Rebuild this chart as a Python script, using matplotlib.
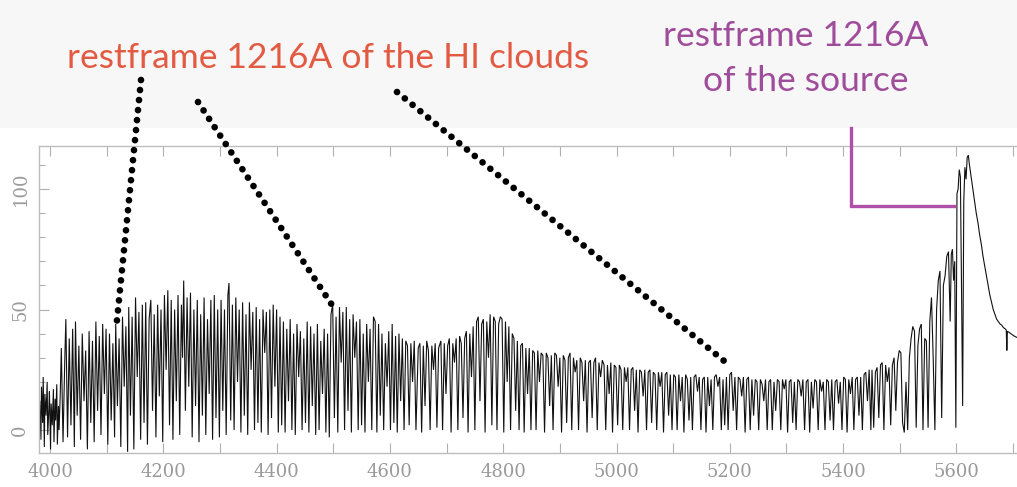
import matplotlib
matplotlib.use("Agg")
import matplotlib.pyplot as plt
from matplotlib.lines import Line2D
from matplotlib.patches import Rectangle
from matplotlib.ticker import MultipleLocator

# ---- QSO spectrum: flux vs observed wavelength (Angstrom) ----
# noisy blue end
noise_wave = [3982, 3984, 3985, 3987, 3988, 3990, 3991, 3993, 3995, 3996,
              3998, 3999, 4001, 4002, 4004, 4006, 4007, 4009, 4010, 4012,
              4013, 4015, 4016, 4018]
noise_flux = [12, -4, 18, 3, 22, -7, 15, 6, 20, -2,
              9, 16, -8, 11, 2, 17, -5, 13, 4, 19,
              -6, 10, 0, 14]

# dense Lyman-alpha forest
blue_wave = [4020, 4023, 4026, 4028, 4031, 4034, 4037, 4040, 4043, 4045,
             4048, 4051, 4054, 4057, 4060, 4063, 4066, 4069, 4072, 4075,
             4078, 4081, 4084, 4087, 4090, 4093, 4096, 4099, 4102, 4105,
             4108, 4111, 4114, 4116, 4119, 4122, 4125, 4128, 4131, 4134,
             4137, 4139, 4142, 4145, 4148, 4151, 4154, 4157, 4160, 4163,
             4166, 4169, 4172, 4175, 4178, 4181, 4184, 4187, 4190, 4193,
             4196, 4199, 4202, 4205, 4208, 4211, 4214, 4217, 4220, 4223,
             4226, 4229, 4232, 4234, 4236, 4239, 4242, 4245, 4248, 4251,
             4254, 4257, 4260, 4263, 4266, 4269, 4272, 4275, 4278, 4281,
             4284, 4287, 4290, 4293, 4296, 4299]
blue_flux = [34, -5, 28, 46, -3, 38, 2, 42, -7, 45,
             6, 35, -4, 40, 12, 33, -8, 41, 3, 37,
             -5, 45, 8, 39, -2, 44, 15, 42, -6, 40,
             4, 36, -3, 44, 10, 38, -7, 47, 18, 43,
             -9, 51, 6, 47, -8, 55, 22, 49, -4, 52,
             3, 53, -6, 46, 54, 8, 48, -3, 52, 14,
             50, -5, 56, 25, 58, 2, 54, -4, 50, 12,
             56, -2, 52, 30, 62, 8, 55, 18, 57, -3,
             50, 10, 54, -5, 48, 6, 55, -2, 46, 15,
             54, -4, 56, 5, 50, -3]

mid_wave = [4302, 4305, 4308, 4311, 4314, 4316, 4319, 4322, 4325, 4328,
            4331, 4334, 4337, 4340, 4343, 4346, 4349, 4352, 4355, 4358,
            4361, 4364, 4367, 4370, 4373, 4376, 4379, 4382, 4385, 4388,
            4391, 4394, 4397, 4400, 4403, 4406, 4409, 4412, 4415, 4418,
            4421, 4424, 4427, 4430, 4433, 4436, 4439, 4442, 4445, 4448,
            4451, 4454, 4457, 4460, 4463, 4466, 4469, 4472, 4475, 4478,
            4481, 4484, 4487, 4490, 4493, 4496, 4499, 4502, 4505, 4508,
            4511, 4514, 4517, 4520, 4523, 4526, 4529, 4532, 4535, 4538,
            4541, 4544, 4547, 4550, 4553, 4556, 4559, 4562, 4565, 4568,
            4571, 4574, 4577, 4580, 4583, 4586, 4589, 4592, 4595, 4598,
            4601, 4604, 4607, 4610, 4613, 4616, 4619]
mid_flux = [54, 8, 50, -2, 56, 61, 4, 52, 0, 55,
            20, 50, -1, 53, 6, 48, -2, 53, 25, 49,
            0, 51, 3, 46, -1, 50, 32, 49, -2, 50,
            5, 52, 18, 50, -1, 47, 2, 45, -1, 42,
            12, 46, 0, 40, -2, 44, 22, 41, 0, 38,
            3, 45, -1, 43, 10, 40, -2, 44, 0, 37,
            15, 42, -1, 40, -3, 48, 52, 5, 47, -1,
            51, 28, 49, 0, 51, 8, 46, -1, 48, 30,
            45, 0, 46, 2, 40, -1, 44, 20, 42, 0,
            47, 45, -1, 44, 6, 40, 0, 36, 18, 41,
            0, 44, 3, 39, -1, 40, 12]

bump_wave = [4622, 4625, 4628, 4631, 4634, 4637, 4640, 4643, 4646, 4650,
             4653, 4656, 4659, 4662, 4665, 4668, 4671, 4674, 4677, 4680,
             4683, 4686, 4690, 4693, 4696, 4699, 4702, 4705, 4708, 4711,
             4714, 4717, 4720, 4723, 4726, 4729, 4732, 4735, 4738, 4741,
             4744, 4747, 4750, 4753, 4756, 4759, 4762, 4765, 4768, 4771,
             4774, 4777, 4780, 4783, 4786, 4789, 4792, 4795, 4798, 4801,
             4804, 4807, 4810, 4813, 4816, 4819, 4822, 4825, 4828, 4831,
             4834, 4837, 4840, 4843, 4846, 4849]
bump_flux = [38, 0, 37, 35, 2, 36, 20, 37, 0, 34,
             36, -1, 35, 10, 37, 33, 0, 35, 25, 36,
             1, 34, 37, 0, 36, 15, 35, 38, -1, 36,
             28, 38, 0, 39, 36, 5, 38, 41, -1, 40,
             22, 43, 0, 45, 47, 12, 44, 46, -1, 45,
             30, 48, 2, 47, 45, 0, 44, 47, 46, -1,
             45, 20, 43, 0, 40, 38, 8, 37, 0, 35,
             36, -1, 34, 15, 34, 0]

red_wave = [4852, 4855, 4858, 4861, 4864, 4867, 4870, 4873, 4876, 4879,
            4882, 4885, 4888, 4891, 4894, 4897, 4900, 4903, 4906, 4909,
            4912, 4915, 4918, 4921, 4924, 4927, 4930, 4933, 4936, 4939,
            4942, 4945, 4948, 4951, 4954, 4957, 4960, 4963, 4966, 4969,
            4972, 4975, 4978, 4981, 4984, 4987, 4990, 4993, 4996, 4999,
            5002, 5005, 5008, 5011, 5014, 5017, 5020, 5023, 5026, 5029,
            5032, 5035, 5038, 5041, 5044, 5047, 5050, 5053, 5056, 5059,
            5062, 5065, 5068, 5071, 5074, 5077, 5080, 5083, 5086, 5089,
            5092, 5095, 5098]
red_flux = [33, 32, 0, 33, 20, 32, 31, -1, 32, 30,
            10, 31, 0, 32, 31, 18, 30, -1, 31, 29,
            3, 30, 32, 0, 30, 24, 29, 0, 30, 28,
            12, 29, -1, 28, 29, 5, 28, 30, 0, 28,
            22, 29, 27, 0, 27, 15, 28, -1, 27, 26,
            2, 27, 25, 0, 26, 20, 26, 0, 25, 26,
            8, 25, -1, 25, 24, 14, 25, 0, 24, 25,
            3, 24, 23, 0, 24, 18, 24, -1, 23, 24,
            6, 23, 0]

flat_wave = [5101, 5104, 5107, 5110, 5113, 5116, 5119, 5122, 5125, 5128,
             5131, 5134, 5137, 5140, 5143, 5146, 5149, 5152, 5155, 5158,
             5161, 5164, 5167, 5170, 5173, 5176, 5179, 5182, 5185, 5188,
             5191, 5194, 5197, 5200, 5203, 5206, 5209, 5212, 5215, 5218,
             5221, 5224, 5227, 5230, 5233, 5236, 5239, 5242, 5245, 5248,
             5251, 5254, 5257, 5260, 5263, 5266, 5269, 5272, 5275, 5278,
             5281, 5284, 5287, 5290, 5293, 5296, 5299, 5302, 5305, 5308,
             5311, 5314, 5317, 5320, 5323, 5326, 5329, 5332, 5335, 5338,
             5341, 5344, 5347, 5350, 5353, 5356, 5359, 5362, 5365, 5368,
             5371, 5374, 5377, 5380, 5383, 5386, 5389, 5392, 5395, 5398,
             5401, 5404, 5407, 5410, 5413, 5416, 5419, 5422, 5425, 5428,
             5431, 5434, 5437, 5440, 5443, 5446, 5449]
flat_flux = [23, 22, 0, 23, 12, 22, -1, 23, 21, 4,
             22, 0, 22, 23, 16, 22, 0, 21, 22, -1,
             22, 10, 21, 0, 22, 23, 18, 22, 0, 21,
             2, 22, 0, 23, 24, 8, 22, 0, 22, 21,
             14, 22, -1, 21, 22, 0, 21, 6, 21, 20,
             0, 21, 19, 12, 21, 0, 20, 21, 0, 20,
             8, 21, 20, 0, 21, 17, 21, -1, 20, 21,
             3, 20, 0, 21, 20, 14, 21, 0, 20, 21,
             -1, 20, 9, 21, 20, 0, 21, 16, 20, 0,
             21, 20, 4, 21, 0, 20, 21, 11, 20, 0,
             22, 21, -1, 21, 15, 22, 0, 21, 22, 6,
             22, 0, 23, 24, 12, 25, 0]

# rising blue wing of the Lyman-alpha emission line
rise_wave = [5451, 5454, 5457, 5460, 5463, 5466, 5469, 5472, 5475, 5478,
             5481, 5484, 5487, 5490, 5493, 5496, 5499, 5502, 5505, 5508,
             5511, 5514, 5517, 5520, 5523, 5526, 5529, 5532, 5535, 5538,
             5541, 5544, 5547, 5550, 5553, 5556, 5559, 5562, 5565, 5568,
             5571, 5574, 5577, 5580, 5583, 5586, 5589, 5591, 5593, 5595,
             5597, 5599, 5601, 5603, 5605, 5607, 5609, 5611, 5613, 5615,
             5617, 5619, 5621]
rise_flux = [25, 1, 24, 26, 5, 27, 28, 0, 27, 20,
             26, 2, 27, 30, 8, 28, 33, 32, 3, -1,
             20, 0, 30, 38, 43, 41, 1, 35, 42, 44,
             0, 38, 37, 1, 45, 55, 30, 0, 50, 62,
             66, 5, 60, 64, 72, 74, 45, 73, 75, 62,
             70, 1, 98, 100, 108, 105, 60, 10, 95, 109,
             104, 113, 114]

# red wing of the emission line
wing_wave = [5623, 5626, 5629, 5632, 5635, 5638, 5641, 5644, 5647, 5650,
             5653, 5656, 5659, 5662, 5665, 5668, 5671, 5674, 5677, 5680,
             5683, 5686, 5688, 5689, 5690, 5693, 5696, 5699, 5702, 5706,
             5712]
wing_flux = [110, 105, 100, 95, 90, 86, 81, 77, 72, 68,
             64, 60, 56, 53, 50, 48, 46, 45, 44, 43.5,
             42.5, 42, 41.5, 33, 41, 40.5, 40, 39.5, 39, 38.5,
             38]

wave = (noise_wave + blue_wave + mid_wave + bump_wave + red_wave
        + flat_wave + rise_wave + wing_wave)
flux = (noise_flux + blue_flux + mid_flux + bump_flux + red_flux
        + flat_flux + rise_flux + wing_flux)

x_major = [4000, 4200, 4400, 4600, 4800, 5000, 5200, 5400, 5600]
y_major = [0, 50, 100]

W, H = 1017, 487
fig = plt.figure(figsize=(W / 100, H / 100), dpi=100)
fig.patch.set_facecolor("white")


def fx(px):
    return px / W


def fy(py):
    return 1 - py / H


# faint header band
fig.add_artist(Rectangle((0, fy(128)), 1, 1 - fy(128), transform=fig.transFigure,
                         facecolor="#f8f7f7", edgecolor="none", zorder=0))

ax = fig.add_axes([fx(39), fy(453), fx(1030) - fx(39), fy(146) - fy(453)])
ax.set_facecolor("white")
ax.plot(wave, flux, color="#111111", lw=0.8, solid_joinstyle="miter")

ax.set_xlim(3980.6, 5729.9)
ax.set_ylim(-9.5, 117.8)

ax.set_xticks(x_major)
ax.set_xticklabels([str(v) for v in x_major])
ax.xaxis.set_minor_locator(MultipleLocator(100))
ax.set_yticks(y_major)
ax.set_yticklabels([str(v) for v in y_major], rotation=90, va="center")
ax.yaxis.set_minor_locator(MultipleLocator(10))

tick_col = "#b0b0b0"
ax.tick_params(axis="x", which="both", direction="in", top=True, bottom=True,
               length=7, width=0.8, color=tick_col, labelcolor="#9a9a9a",
               labelsize=13, pad=7)
ax.tick_params(axis="y", which="major", direction="in", left=True, right=False,
               length=7, width=0.8, color=tick_col, labelcolor="#9a9a9a",
               labelsize=13, pad=7)
ax.tick_params(axis="y", which="minor", direction="in", left=True, right=False,
               length=4, width=0.8, color=tick_col)
for lab in ax.get_xticklabels() + ax.get_yticklabels():
    lab.set_family("DejaVu Serif")
for s in ax.spines.values():
    s.set_color("#bdbdbd")
    s.set_linewidth(1.0)

# dotted pointers toward absorbing clouds
dots = [(141, 80, 116, 330), (198, 102, 332, 305), (397, 92, 729, 365)]
for x0, y0, x1, y1 in dots:
    fig.add_artist(Line2D([fx(x0), fx(x1)], [fy(y0), fy(y1)],
                          transform=fig.transFigure, color="black", lw=4.8,
                          linestyle=(0, (0.01, 1.5)), dash_capstyle="round",
                          zorder=5))

# bracket marking the emission peak
fig.add_artist(Line2D([fx(851), fx(851), fx(954)], [fy(128), fy(206), fy(206)],
                      transform=fig.transFigure, color="#b04fa8", lw=2.4,
                      solid_joinstyle="miter", zorder=5))

fig.text(fx(328), fy(68), "restframe 1216A of the HI clouds", color="#e35a43",
         fontsize=25.5, family="Lato", ha="center", va="baseline")
fig.text(fx(796), fy(46), "restframe 1216A", color="#9f4c9b",
         fontsize=25.5, family="Lato", ha="center", va="baseline")
fig.text(fx(806), fy(91), "of the source", color="#9f4c9b",
         fontsize=25.5, family="Lato", ha="center", va="baseline")

fig.savefig("out.png", dpi=100, facecolor=fig.get_facecolor())
